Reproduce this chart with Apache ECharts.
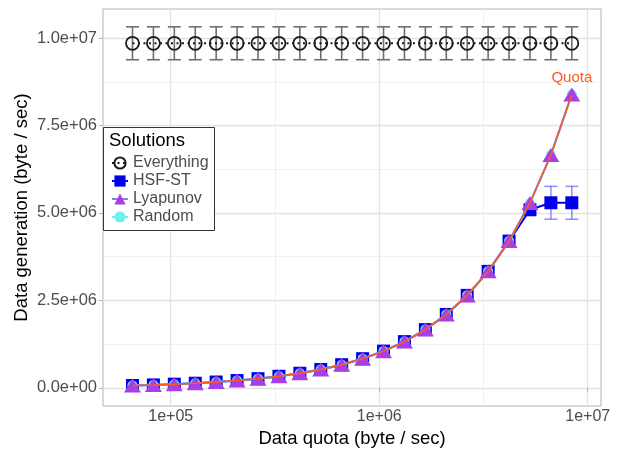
<!DOCTYPE html>
<html><head><meta charset="utf-8">
<script src="https://cdn.jsdelivr.net/npm/echarts@6/dist/echarts.min.js"></script>
<style>html,body{margin:0;padding:0;background:#fff}#c{width:618px;height:450px}</style>
</head><body><div id="c"></div>
<script>
// x: data quota (byte/sec)
const quota = [65536, 82570, 104032, 131072, 165140, 208064, 262144, 330281, 416128, 524288, 660562, 832256, 1048576, 1321123, 1664511, 2097152, 2642246, 3329021, 4194304, 5284492, 6658043, 8388608];
const everything = [9850000, 9850000, 9850000, 9850000, 9850000, 9850000, 9850000, 9850000, 9850000, 9850000, 9850000, 9850000, 9850000, 9850000, 9850000, 9850000, 9850000, 9850000, 9850000, 9850000, 9850000, 9850000];
const everythingErr = [470000, 470000, 470000, 470000, 470000, 470000, 470000, 470000, 470000, 470000, 470000, 470000, 470000, 470000, 470000, 470000, 470000, 470000, 470000, 470000, 470000, 470000];
const hsfSt = [65536, 82570, 104032, 131072, 165140, 208064, 262144, 330281, 416128, 524288, 660562, 832256, 1048576, 1321123, 1664511, 2097152, 2642246, 3329021, 4194304, 5090000, 5290000, 5290000];
const hsfStErr = [0, 0, 0, 0, 0, 0, 0, 0, 0, 0, 0, 0, 0, 0, 0, 0, 0, 0, 0, 0, 470000, 470000];
const lyapunov = [65536, 82570, 104032, 131072, 165140, 208064, 262144, 330281, 416128, 524288, 660562, 832256, 1048576, 1321123, 1664511, 2097152, 2642246, 3329021, 4194304, 5284492, 6658043, 8388608];
const random = [65536, 82570, 104032, 131072, 165140, 208064, 262144, 330281, 416128, 524288, 660562, 832256, 1048576, 1321123, 1664511, 2097152, 2642246, 3329021, 4194304, 5284492, 6658043, 8388608];
const quotaLine = [65536, 82570, 104032, 131072, 165140, 208064, 262144, 330281, 416128, 524288, 660562, 832256, 1048576, 1321123, 1664511, 2097152, 2642246, 3329021, 4194304, 5284492, 6658043, 8388608];
const xMajor = [100000, 1000000, 10000000];
const xMinor = [316228, 3162278];
const yMajor = [0, 2500000, 5000000, 7500000, 10000000];
const yMinor = [1250000, 3750000, 6250000, 8750000];
const xTickLabels = {100000: '1e+05', 1000000: '1e+06', 10000000: '1e+07'};
const yTickLabels = {0: '0.0e+00', 2500000: '2.5e+06', 5000000: '5.0e+06', 7500000: '7.5e+06', 10000000: '1.0e+07'};

const FONT = 'Liberation Sans, Arial, sans-serif';
const pairs = ys => quota.map((q, i) => [q, ys[i]]);
const errData = (ys, errs) => quota.map((q, i) => [q, ys[i] - errs[i], ys[i] + errs[i], errs[i]]).filter(d => d[3] > 0);
function errRender(color) {
  return function (params, api) {
    const x = api.value(0);
    const lo = api.coord([x, api.value(1)]);
    const hi = api.coord([x, api.value(2)]);
    const w = 6.5;
    const st = {stroke: color, lineWidth: 1.6};
    return {type: 'group', children: [
      {type: 'line', shape: {x1: lo[0], y1: lo[1], x2: hi[0], y2: hi[1]}, style: st},
      {type: 'line', shape: {x1: lo[0] - w, y1: lo[1], x2: lo[0] + w, y2: lo[1]}, style: st},
      {type: 'line', shape: {x1: hi[0] - w, y1: hi[1], x2: hi[0] + w, y2: hi[1]}, style: st}
    ]};
  };
}
const gridLines = [].concat(
  xMajor.map(v => ({xAxis: v, lineStyle: {color: '#e2e2e2', width: 1.3, type: 'solid'}})),
  xMinor.map(v => ({xAxis: v, lineStyle: {color: '#ececec', width: 0.8, type: 'solid'}})),
  yMajor.map(v => ({yAxis: v, lineStyle: {color: '#e2e2e2', width: 1.3, type: 'solid'}})),
  yMinor.map(v => ({yAxis: v, lineStyle: {color: '#ececec', width: 0.8, type: 'solid'}}))
);

const chart = echarts.init(document.getElementById('c'), null, {renderer: 'canvas'});
const lastIdx = quota.length - 1;
chart.setOption({
  animation: false,
  backgroundColor: '#ffffff',
  textStyle: {fontFamily: FONT},
  grid: {left: 103, right: 17, top: 9, bottom: 44, show: true, borderColor: '#b3b3b3', borderWidth: 1,
    backgroundColor: 'transparent', containLabel: false, outerBoundsMode: 'none'},
  xAxis: {
    type: 'log', logBase: 10, min: 47320, max: 11580000,
    name: 'Data quota (byte / sec)', nameLocation: 'middle', nameGap: 21,
    nameTextStyle: {fontSize: 18.5, color: '#000', fontFamily: FONT},
    axisLine: {show: false},
    axisTick: {show: true, length: 4, lineStyle: {color: '#b3b3b3'}, customValues: xMajor},
    axisLabel: {customValues: xMajor, fontSize: 16, color: '#4d4d4d', margin: 3, fontFamily: FONT,
      formatter: v => xTickLabels[Math.round(v)] || ''},
    splitLine: {show: false}
  },
  yAxis: {
    type: 'value', min: -520000, max: 10830000,
    name: 'Data generation (byte / sec)', nameLocation: 'middle', nameGap: 72, nameMoveOverlap: false,
    nameTextStyle: {fontSize: 18.5, color: '#000', fontFamily: FONT},
    axisLine: {show: false},
    axisTick: {show: true, length: 4, lineStyle: {color: '#b3b3b3'}, customValues: yMajor},
    axisLabel: {customValues: yMajor, fontSize: 16.5, color: '#4d4d4d', margin: 6, fontFamily: FONT,
      formatter: v => yTickLabels[Math.round(v)] || ''},
    splitLine: {show: false}
  },
  legend: {
    left: 106, top: 149.5, orient: 'vertical', itemGap: 1, itemWidth: 16, itemHeight: 14, z: 11,
    textStyle: {fontSize: 16, color: '#4d4d4d', lineHeight: 17, fontFamily: FONT},
    data: ['Everything', 'HSF-ST', 'Lyapunov', 'Random']
  },
  graphic: [
    {type: 'rect', left: 103, top: 127, shape: {width: 111, height: 103}, style: {fill: '#fff', stroke: '#333', lineWidth: 1}, z: 10},
    {type: 'text', left: 109, top: 131, style: {text: 'Solutions', fontSize: 18.5, fill: '#000', fontFamily: FONT}, z: 10}
  ],
  series: [
    {name: 'grid', type: 'line', data: [], silent: true, z: 0,
      markLine: {z: 0, silent: true, symbol: 'none', label: {show: false}, animation: false, data: gridLines}},
    {name: 'EverythingErr', type: 'custom', renderItem: errRender('#6e6e6e'), data: errData(everything, everythingErr), z: 2, silent: true},
    {name: 'Everything', type: 'line', data: pairs(everything), symbol: 'circle', symbolSize: 13,
      itemStyle: {color: 'transparent', borderColor: '#1a1a1a', borderWidth: 1.8},
      lineStyle: {color: '#1a1a1a', width: 2, type: [2, 3.5]}, z: 3},
    {name: 'HSF-STErr', type: 'custom', renderItem: errRender('rgba(60,60,255,0.55)'), data: errData(hsfSt, hsfStErr), z: 2, silent: true},
    {name: 'HSF-ST', type: 'line', data: pairs(hsfSt), symbol: 'rect', symbolSize: 13,
      itemStyle: {color: '#0000ee'}, lineStyle: {color: '#0000ee', width: 2}, z: 4},
    {name: 'Random', type: 'line', data: pairs(random), symbol: 'circle', symbolSize: 10,
      itemStyle: {color: '#6ff0f0'}, lineStyle: {color: '#6ff0f0', width: 2}, z: 5},
    {name: 'Lyapunov', type: 'line', data: pairs(lyapunov), symbol: 'triangle', symbolSize: [17, 14],
      itemStyle: {color: '#a83ee6'}, lineStyle: {color: '#7f7fe6', width: 2}, z: 6},
    {name: 'Quota', type: 'line', data: pairs(quotaLine), symbol: 'none', z: 7,
      lineStyle: {color: '#ff5a1f', width: 1.5},
      markPoint: {symbol: 'circle', symbolSize: 0, data: [{coord: [quota[lastIdx], quotaLine[lastIdx]], value: 'Quota'}],
        label: {show: true, position: 'top', distance: 9, formatter: 'Quota', color: '#ff5a1f', fontSize: 15, fontFamily: FONT}}}
  ]
});
</script></body></html>
